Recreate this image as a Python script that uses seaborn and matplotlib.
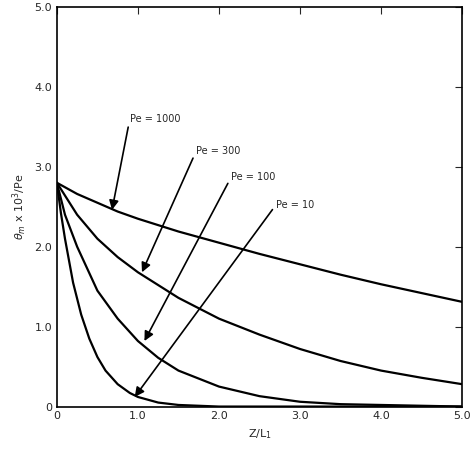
import pandas as pd
import matplotlib
matplotlib.use("Agg")
import matplotlib.pyplot as plt
import seaborn as sns

# curves (theta_m x 10^3 / Pe vs Z/L1)
z_1000 = [0, 0.25, 0.5, 0.75, 1, 1.5, 2, 2.5, 3, 3.5, 4, 4.5, 5]
v_1000 = [2.8, 2.66, 2.55, 2.44, 2.35, 2.19, 2.05, 1.91, 1.78, 1.65, 1.53, 1.42, 1.31]
z_300 = [0, 0.25, 0.5, 0.75, 1, 1.5, 2, 2.5, 3, 3.5, 4, 4.5, 5]
v_300 = [2.8, 2.4, 2.1, 1.87, 1.68, 1.36, 1.1, 0.9, 0.72, 0.57, 0.45, 0.36, 0.28]
z_100 = [0, 0.1, 0.25, 0.5, 0.75, 1, 1.25, 1.5, 2, 2.5, 3, 3.5, 4, 5]
v_100 = [2.8, 2.4, 2.0, 1.45, 1.1, 0.82, 0.61, 0.45, 0.25, 0.13, 0.06, 0.03, 0.02, 0.0]
z_10 = [0, 0.05, 0.1, 0.2, 0.3, 0.4, 0.5, 0.6, 0.75, 0.9, 1, 1.25, 1.5, 2, 5]
v_10 = [2.8, 2.42, 2.1, 1.55, 1.15, 0.85, 0.62, 0.45, 0.28, 0.17, 0.12, 0.05, 0.02, 0.0, 0.0]

labels = ["Pe = 1000", "Pe = 300", "Pe = 100", "Pe = 10"]
label_pos = [(0.9, 3.6), (1.72, 3.2), (2.15, 2.87), (2.7, 2.52)]
arrow_tip = [(0.68, 2.46), (1.05, 1.68), (1.08, 0.82), (0.96, 0.12)]

sns.set_style("white")
plt.rcParams['font.family'] = ['DejaVu Sans']

frames = []
for name, z, v in [(labels[0], z_1000, v_1000), (labels[1], z_300, v_300),
                   (labels[2], z_100, v_100), (labels[3], z_10, v_10)]:
    frames.append(pd.DataFrame({"z": z, "theta": v, "Pe": name}))
df = pd.concat(frames)

fig, ax = plt.subplots(figsize=(4.74, 4.62), dpi=100)
sns.lineplot(data=df, x="z", y="theta", units="Pe", estimator=None,
             color="black", lw=1.6, ax=ax, legend=False)

for lab, (tx, ty), (ax_, ay) in zip(labels, label_pos, arrow_tip):
    ax.annotate(lab, xy=(ax_, ay), xytext=(tx, ty), fontsize=7,
                va="center", ha="left",
                arrowprops=dict(arrowstyle="-|>", color="black", lw=1.2,
                                mutation_scale=14, shrinkA=0, shrinkB=0,
                                relpos=(0, 0.5)))

ax.set_xlim(0, 5)
ax.set_ylim(0, 5)
ticks = [0, 1, 2, 3, 4, 5]
tick_labels = ["0", "1.0", "2.0", "3.0", "4.0", "5.0"]
ax.set_xticks(ticks)
ax.set_xticklabels(tick_labels, fontsize=8)
ax.set_yticks(ticks)
ax.set_yticklabels(tick_labels, fontsize=8)
ax.tick_params(direction="in", top=True, right=True, length=5)
for s in ax.spines.values():
    s.set_color("black")
    s.set_linewidth(1.2)
ax.set_xlabel(r"Z/L$_1$", fontsize=8)
ax.set_ylabel(r"$\theta_m$ x 10$^3$/Pe", fontsize=8)

fig.subplots_adjust(left=0.12, right=0.975, bottom=0.12, top=0.985)
fig.savefig("out.png", dpi=100)
